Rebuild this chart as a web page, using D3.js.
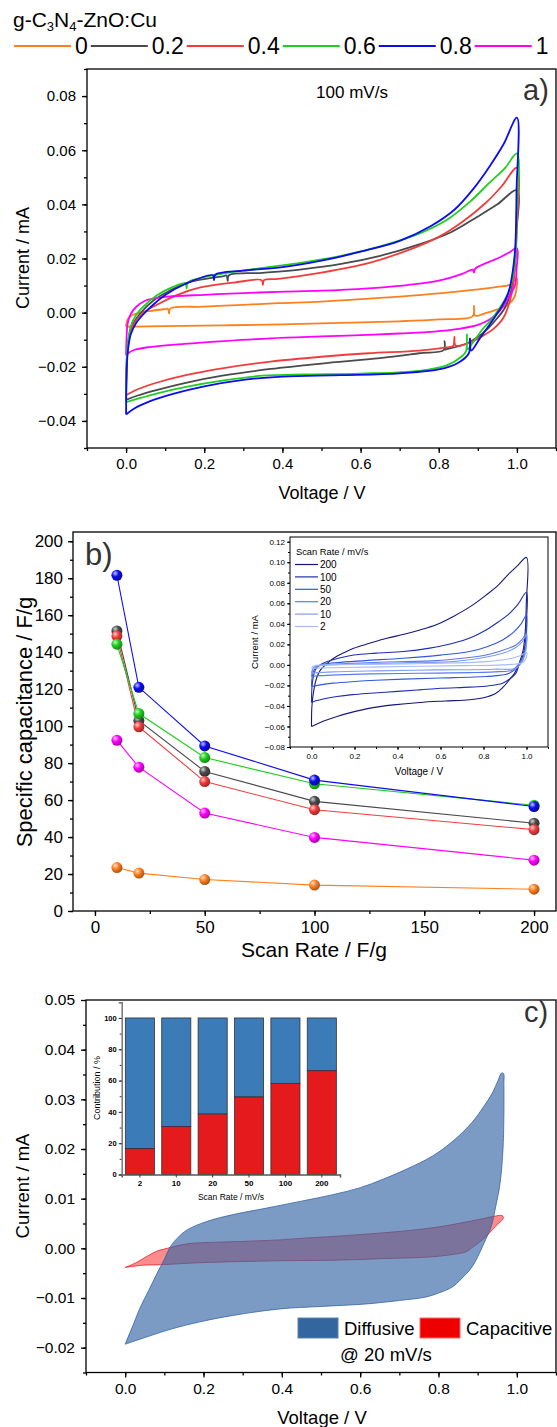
<!DOCTYPE html>
<html><head><meta charset="utf-8">
<script src="https://cdn.jsdelivr.net/npm/d3@7"></script>
<style>
body{margin:0;background:#fff}
svg{display:block}
text{font-family:"Liberation Sans",Arial,Helvetica,sans-serif}
</style></head>
<body><svg id="chart" width="557" height="1427"></svg>
<script>
// ---------------- DATA ----------------
const seriesLabels = ["0", "0.2", "0.4", "0.6", "0.8", "1"];
const palette = ["#ff7f1e", "#4a4a4a", "#f23c3c", "#1fcf1f", "#0c0cf0", "#ff00ff"];

// Panel a: CV loops at 100 mV/s  [Voltage V, Current mA]
const cvA_0 = [[0,-0.0052],[0.001,-0.004],[0.004,-0.0025],[0.012,-0.0012],[0.03,-0.0002],[0.06,0.0006],[0.1,0.0013],[0.107,0.0014],[0.11,-0.0003],[0.113,0.0015],[0.2,0.0022],[0.3,0.0029],[0.39,0.0035],[0.5,0.0041],[0.62,0.0052],[0.75,0.0065],[0.876,0.0082],[0.95,0.0095],[0.985,0.0105],[1.0,0.0127],[0.999,0.009],[0.993,0.0055],[0.975,0.0028],[0.95,0.0012],[0.92,-0.0002],[0.893,-0.0011],[0.89,0.0025],[0.887,-0.0013],[0.8,-0.0025],[0.7,-0.0032],[0.55,-0.0038],[0.4,-0.0043],[0.25,-0.0047],[0.1,-0.005],[0.02,-0.0052],[0,-0.0052]];
const cvA_02 = [[0,-0.0322],[0.001,-0.02],[0.005,-0.011],[0.015,-0.005],[0.035,-0.0005],[0.07,0.0045],[0.11,0.008],[0.16,0.0112],[0.25,0.0135],[0.257,0.0137],[0.26,0.0117],[0.263,0.0138],[0.35,0.0147],[0.45,0.016],[0.55,0.018],[0.65,0.021],[0.75,0.0252],[0.83,0.0296],[0.9,0.0355],[0.95,0.04],[1.0,0.0452],[0.999,0.03],[0.995,0.018],[0.985,0.008],[0.97,0.002],[0.95,-0.002],[0.925,-0.006],[0.9,-0.009],[0.87,-0.0115],[0.82,-0.0135],[0.817,-0.0136],[0.815,-0.0105],[0.813,-0.0138],[0.75,-0.015],[0.65,-0.0168],[0.5,-0.0188],[0.37,-0.0208],[0.25,-0.0232],[0.15,-0.026],[0.08,-0.0285],[0.03,-0.0306],[0,-0.0322]];
const cvA_04 = [[0,-0.0305],[0.002,-0.018],[0.008,-0.009],[0.02,-0.004],[0.045,0],[0.08,0.003],[0.13,0.0065],[0.19,0.0093],[0.28,0.0112],[0.347,0.012],[0.35,0.0103],[0.353,0.012],[0.39,0.0125],[0.5,0.0148],[0.62,0.0183],[0.72,0.023],[0.8,0.028],[0.86,0.0335],[0.92,0.0405],[0.96,0.0465],[1.0,0.0535],[0.999,0.03],[0.995,0.016],[0.985,0.006],[0.965,-0.002],[0.94,-0.006],[0.91,-0.0088],[0.876,-0.0113],[0.843,-0.0121],[0.84,-0.009],[0.837,-0.0123],[0.82,-0.0128],[0.75,-0.014],[0.62,-0.015],[0.5,-0.0163],[0.37,-0.0181],[0.25,-0.0205],[0.15,-0.0232],[0.08,-0.0258],[0.03,-0.0283],[0,-0.0305]];
const cvA_06 = [[0,-0.0331],[0.001,-0.022],[0.004,-0.012],[0.012,-0.005],[0.025,-0.001],[0.046,0.0025],[0.08,0.0065],[0.12,0.0095],[0.152,0.0108],[0.155,0.009],[0.158,0.0111],[0.25,0.0145],[0.35,0.0165],[0.45,0.0185],[0.55,0.021],[0.65,0.0245],[0.75,0.0292],[0.82,0.0342],[0.88,0.041],[0.93,0.048],[0.97,0.0535],[1.0,0.0588],[0.999,0.035],[0.996,0.02],[0.988,0.012],[0.975,0.0065],[0.955,0.0015],[0.935,-0.0025],[0.91,-0.0065],[0.885,-0.0115],[0.874,-0.0135],[0.872,-0.008],[0.87,-0.0142],[0.86,-0.016],[0.82,-0.0195],[0.75,-0.0215],[0.6,-0.0225],[0.45,-0.0228],[0.35,-0.0233],[0.25,-0.025],[0.15,-0.0275],[0.08,-0.0298],[0.03,-0.0318],[0,-0.0331]];
const cvA_08 = [[0,-0.0376],[0.001,-0.025],[0.004,-0.015],[0.012,-0.008],[0.025,-0.004],[0.045,-0.0005],[0.07,0.003],[0.1,0.0065],[0.15,0.0105],[0.222,0.0138],[0.225,0.012],[0.228,0.014],[0.3,0.0155],[0.4,0.0168],[0.5,0.0192],[0.6,0.0225],[0.7,0.0265],[0.78,0.032],[0.84,0.038],[0.89,0.046],[0.93,0.054],[0.965,0.062],[1.0,0.072],[0.999,0.045],[0.996,0.025],[0.99,0.016],[0.978,0.0072],[0.962,0.0025],[0.944,-0.0015],[0.925,-0.0055],[0.905,-0.0095],[0.883,-0.014],[0.88,-0.0095],[0.877,-0.015],[0.85,-0.0185],[0.8,-0.021],[0.7,-0.0224],[0.55,-0.0231],[0.4,-0.0236],[0.3,-0.0248],[0.2,-0.0272],[0.12,-0.03],[0.06,-0.0328],[0.02,-0.0355],[0,-0.0376]];
const cvA_1 = [[0,-0.0157],[0.001,-0.01],[0.004,-0.004],[0.012,-0.0005],[0.025,0.002],[0.05,0.0045],[0.1,0.0058],[0.2,0.0066],[0.3,0.0072],[0.39,0.0077],[0.5,0.0081],[0.62,0.009],[0.72,0.0102],[0.8,0.0118],[0.86,0.0143],[0.887,0.0159],[0.89,0.0148],[0.893,0.0162],[0.95,0.02],[0.98,0.0222],[1.0,0.0238],[0.999,0.016],[0.995,0.01],[0.978,0.0055],[0.955,0.0005],[0.93,-0.0025],[0.9,-0.0045],[0.85,-0.006],[0.79,-0.007],[0.7,-0.0077],[0.6,-0.0083],[0.5,-0.0088],[0.37,-0.0095],[0.25,-0.0105],[0.15,-0.0115],[0.06,-0.0127],[0.02,-0.0138],[0.005,-0.015],[0,-0.0157]];

// Panel b: specific capacitance (F/g) vs scan rate
const scanRates = [10, 20, 50, 100, 200];
const capB_0  = [23.5, 20.5, 17, 14, 11.8];
const capB_02 = [151.5, 103, 75.5, 59.3, 47.5];
const capB_04 = [148.7, 99.6, 70, 54.8, 44];
const capB_06 = [144.3, 106.8, 83, 68.8, 57.2];
const capB_08 = [181.6, 121, 89.3, 70.8, 56.5];
const capB_1  = [92.3, 77.8, 53, 39.8, 27.5];

// Inset b: CV of 0.8 sample at several scan rates
const insetRates = ["200", "100", "50", "20", "10", "2"];
const insetPalette = ["#16167a", "#1d2db0", "#3058e0", "#5a7bec", "#809cf1", "#a8bbf6"];
const cvI_200 = [[0,-0.06],[0.002,-0.04],[0.011,-0.0243],[0.025,-0.012],[0.042,-0.0049],[0.07,0.001],[0.103,0.0065],[0.15,0.0118],[0.196,0.0162],[0.27,0.021],[0.35,0.0259],[0.43,0.0298],[0.504,0.034],[0.58,0.039],[0.658,0.047],[0.74,0.057],[0.812,0.068],[0.87,0.078],[0.92,0.0891],[0.96,0.097],[1.0,0.1047],[0.999,0.06],[0.995,0.035],[0.985,0.015],[0.966,0.0016],[0.945,-0.008],[0.92,-0.0146],[0.89,-0.022],[0.858,-0.0276],[0.8,-0.032],[0.735,-0.034],[0.62,-0.0352],[0.504,-0.0366],[0.38,-0.039],[0.273,-0.0421],[0.19,-0.046],[0.119,-0.0502],[0.06,-0.0545],[0.02,-0.058],[0,-0.06]];
const cvI_100 = [[0,-0.0366],[0.002,-0.022],[0.008,-0.012],[0.018,-0.0049],[0.04,0],[0.072,0.0032],[0.13,0.0068],[0.196,0.0097],[0.3,0.0115],[0.427,0.013],[0.55,0.0163],[0.658,0.021],[0.74,0.0265],[0.812,0.034],[0.87,0.042],[0.92,0.05],[0.96,0.059],[1.0,0.0707],[0.999,0.04],[0.995,0.022],[0.982,0.0081],[0.965,0],[0.951,-0.0081],[0.92,-0.014],[0.889,-0.0178],[0.82,-0.0205],[0.735,-0.0217],[0.6,-0.0228],[0.504,-0.0243],[0.4,-0.0258],[0.273,-0.0276],[0.19,-0.029],[0.119,-0.0308],[0.06,-0.033],[0.02,-0.035],[0,-0.0366]];
const cvI_50 = [[0,-0.0211],[0.003,-0.012],[0.012,-0.005],[0.026,-0.0016],[0.06,0.0008],[0.119,0.0023],[0.25,0.0042],[0.427,0.0065],[0.6,0.0095],[0.735,0.013],[0.82,0.018],[0.889,0.0243],[0.94,0.032],[0.975,0.04],[1.0,0.0486],[0.999,0.028],[0.993,0.015],[0.982,0.0049],[0.96,-0.002],[0.92,-0.0081],[0.86,-0.0105],[0.812,-0.0113],[0.6,-0.0128],[0.427,-0.0139],[0.3,-0.015],[0.2,-0.0162],[0.1,-0.0178],[0.04,-0.0195],[0,-0.0211]];
const cvI_20 = [[0,-0.0113],[0.004,-0.006],[0.012,-0.0025],[0.026,-0.001],[0.1,0.0008],[0.196,0.0016],[0.35,0.0028],[0.58,0.0042],[0.7,0.0065],[0.812,0.0097],[0.88,0.0135],[0.951,0.0194],[0.98,0.025],[1.0,0.0308],[0.998,0.018],[0.99,0.009],[0.97,0.0025],[0.935,-0.0049],[0.85,-0.0068],[0.735,-0.0075],[0.5,-0.0082],[0.273,-0.0088],[0.12,-0.0097],[0.04,-0.0105],[0,-0.0113]];
const cvI_10 = [[0,-0.008],[0.005,-0.004],[0.015,-0.0015],[0.026,-0.001],[0.1,0.0002],[0.273,0.001],[0.45,0.0022],[0.658,0.0032],[0.78,0.0065],[0.889,0.0113],[0.95,0.017],[0.98,0.0225],[1.0,0.0292],[0.998,0.016],[0.99,0.008],[0.98,0.0032],[0.951,-0.0032],[0.85,-0.0042],[0.58,-0.0049],[0.3,-0.0058],[0.1,-0.0068],[0,-0.008]];
const cvI_2 = [[0,-0.0032],[0.008,-0.0012],[0.026,-0.0003],[0.2,0.0004],[0.427,0.001],[0.65,0.0018],[0.812,0.0032],[0.92,0.006],[0.97,0.009],[1.0,0.012],[0.998,0.007],[0.982,0.0023],[0.889,0],[0.7,-0.0007],[0.427,-0.0016],[0.15,-0.0025],[0,-0.0032]];

// Panel c: separated contributions at 20 mV/s
const cvC_diffusive = [[0,-0.0193],[0.02,-0.0155],[0.039,-0.0118],[0.06,-0.0085],[0.081,-0.0051],[0.1,-0.0022],[0.115,0.0003],[0.135,0.0022],[0.158,0.0037],[0.208,0.0054],[0.276,0.0068],[0.361,0.0081],[0.45,0.0095],[0.53,0.0108],[0.6,0.0122],[0.658,0.0139],[0.72,0.016],[0.785,0.0186],[0.84,0.0218],[0.886,0.0254],[0.915,0.0285],[0.937,0.0312],[0.952,0.0338],[0.961,0.0353],[0.966,0.0352],[0.967,0.033],[0.965,0.0206],[0.957,0.013],[0.946,0.0084],[0.935,0.0045],[0.92,0.0017],[0.886,-0.0037],[0.86,-0.006],[0.835,-0.0078],[0.8,-0.009],[0.768,-0.0098],[0.7,-0.0105],[0.615,-0.0112],[0.5,-0.0117],[0.395,-0.0122],[0.276,-0.0135],[0.191,-0.0148],[0.12,-0.0162],[0.064,-0.0176],[0.03,-0.0185],[0,-0.0193]];
const cvC_capacitive = [[0,-0.00385],[0.03,-0.0028],[0.056,-0.0016],[0.08,-0.0006],[0.107,0],[0.158,0.0009],[0.19,0.0011],[0.3,0.0014],[0.395,0.0017],[0.446,0.002],[0.55,0.0025],[0.7,0.0034],[0.8,0.0043],[0.87,0.0053],[0.915,0.006],[0.945,0.0065],[0.962,0.0066],[0.966,0.0062],[0.96,0.0055],[0.954,0.0051],[0.935,0.0035],[0.912,0.0017],[0.89,0.0004],[0.87,-0.0007],[0.83,-0.0013],[0.785,-0.0017],[0.65,-0.0021],[0.53,-0.0024],[0.395,-0.0025],[0.19,-0.0029],[0.09,-0.0033],[0.045,-0.0034],[0,-0.00385]];

// Inset c: contribution (%) per scan rate
const contribRates = ["2", "10", "20", "50", "100", "200"];
const capacitivePct = [16.5, 30.6, 38.6, 49.5, 58.2, 66.3];
const diffusivePct = [83.5, 69.4, 61.4, 50.5, 41.8, 33.7];

// ---------------- DRAWING ----------------
const svg = d3.select("#chart");
const FONT = '"Liberation Sans", Arial, Helvetica, sans-serif';
const LABEL_FONT = '"Open Sans", "DejaVu Sans", sans-serif';

function styleAx(sel, fs, sw) {
  sel.select(".domain").remove();
  sel.selectAll("line").attr("stroke", "#000").attr("stroke-width", sw || 1.3);
  sel.selectAll("text").attr("font-size", fs).attr("fill", "#000").attr("font-family", FONT);
}
function axes(g, x, y, o) {
  const [xl, xr] = x.range(), [yb, yt] = y.range();
  const sw = o.sw || 1.3;
  if (o.xMinor) styleAx(g.append("g").attr("transform", `translate(0,${yb})`)
      .call(d3.axisBottom(x).tickValues(o.xMinor).tickSize(o.minor).tickFormat("")), o.fs, sw);
  styleAx(g.append("g").attr("transform", `translate(0,${yb})`)
      .call(d3.axisBottom(x).tickValues(o.xMajor).tickSize(o.major).tickPadding(o.xPad).tickFormat(o.xFmt)), o.fs, sw);
  if (o.yMinor) styleAx(g.append("g").attr("transform", `translate(${xl},0)`)
      .call(d3.axisLeft(y).tickValues(o.yMinor).tickSize(o.minor).tickFormat("")), o.fs, sw);
  styleAx(g.append("g").attr("transform", `translate(${xl},0)`)
      .call(d3.axisLeft(y).tickValues(o.yMajor).tickSize(o.major).tickPadding(o.yPad).tickFormat(o.yFmt)), o.fs, sw);
  g.append("rect").attr("x", xl).attr("y", yt).attr("width", xr - xl).attr("height", yb - yt)
    .attr("fill", "none").attr("stroke", "#000").attr("stroke-width", sw);
}
const rng = (a, b, s) => d3.range(Math.round((b - a) / s) + 1).map(i => +(a + i * s).toFixed(4));

// ---- Top legend ----
const leg = svg.append("g");
const ttl = leg.append("text").attr("x", 13).attr("y", 27).attr("font-size", 21).attr("fill", "#000");
ttl.append("tspan").text("g-C");
ttl.append("tspan").text("3").attr("font-size", 13).attr("dy", 4);
ttl.append("tspan").text("N").attr("dy", -4);
ttl.append("tspan").text("4").attr("font-size", 13).attr("dy", 4);
ttl.append("tspan").text("-ZnO:Cu").attr("dy", -4);
let lx = 14;
seriesLabels.forEach((s, i) => {
  leg.append("line").attr("x1", lx).attr("x2", lx + 57).attr("y1", 46).attr("y2", 46)
    .attr("stroke", palette[i]).attr("stroke-width", 2);
  const t = leg.append("text").attr("x", lx + 61).attr("y", 54).attr("font-size", 23).text(s);
  lx = lx + 61 + t.node().getComputedTextLength() + 3;
});

// ---- Panel a ----
const gA = svg.append("g");
const xA = d3.scaleLinear().domain([-0.1, 1.1]).range([87, 556]);
const yA = d3.scaleLinear().domain([-0.05, 0.09]).range([448, 69]);
const lineA = d3.line().x(d => xA(d[0])).y(d => yA(d[1])).curve(d3.curveCatmullRom.alpha(0.5));
const cvA = [cvA_0, cvA_02, cvA_04, cvA_06, cvA_08, cvA_1];
[0, 1, 2, 5, 3, 4].forEach(i => {
  gA.append("path").attr("d", lineA(cvA[i])).attr("fill", "none")
    .attr("stroke", palette[i]).attr("stroke-width", 1.8).attr("stroke-linejoin", "round");
});
axes(gA, xA, yA, {
  xMajor: rng(0, 1, 0.2), xMinor: rng(-0.1, 1.1, 0.1), yMajor: rng(-0.04, 0.08, 0.02), yMinor: rng(-0.05, 0.09, 0.01),
  major: 5, minor: 3, xPad: 5, yPad: 6, fs: 15, xFmt: d3.format(".1f"), yFmt: d3.format(".2f")
});
gA.append("text").attr("transform", "translate(29,258) rotate(-90)").attr("text-anchor", "middle")
  .attr("font-size", 18).text("Current / mA");
gA.append("text").attr("x", 322).attr("y", 499).attr("text-anchor", "middle").attr("font-size", 18).text("Voltage / V");
gA.append("text").attr("x", 352).attr("y", 98).attr("text-anchor", "middle").attr("font-size", 17).text("100 mV/s");
gA.append("text").attr("x", 523).attr("y", 100).attr("font-size", 29).attr("fill", "#333")
  .attr("font-family", LABEL_FONT).text("a)");

// ---- Panel b ----
const gB = svg.append("g");
const xB = d3.scaleLinear().domain([-10, 210]).range([73, 556]);
const yB = d3.scaleLinear().domain([0, 205]).range([911, 532]);
const defs = svg.append("defs");
palette.forEach((c, i) => {
  const gr = defs.append("radialGradient").attr("id", "sph" + i).attr("cx", "35%").attr("cy", "32%").attr("r", "70%");
  gr.append("stop").attr("offset", "0%").attr("stop-color", d3.interpolateRgb(c, "#fff")(0.75));
  gr.append("stop").attr("offset", "45%").attr("stop-color", c);
  gr.append("stop").attr("offset", "100%").attr("stop-color", d3.interpolateRgb(c, "#000")(0.35));
});
const capB = [capB_0, capB_02, capB_04, capB_06, capB_08, capB_1];
const lineB = d3.line().x((d, j) => xB(scanRates[j])).y(d => yB(d));
[0, 5, 1, 2, 3, 4].forEach(i => {
  gB.append("path").attr("d", lineB(capB[i])).attr("fill", "none").attr("stroke", palette[i]).attr("stroke-width", 1.1);
});
[0, 5, 1, 2, 3, 4].forEach(i => {
  gB.selectAll(null).data(capB[i]).enter().append("circle")
    .attr("cx", (d, j) => xB(scanRates[j])).attr("cy", d => yB(d)).attr("r", 5.5)
    .attr("fill", `url(#sph${i})`);
});
axes(gB, xB, yB, {
  xMajor: rng(0, 200, 50), xMinor: rng(0, 200, 25), yMajor: rng(0, 200, 20), yMinor: rng(0, 200, 10),
  major: 5, minor: 3, xPad: 5, yPad: 5, fs: 17, xFmt: d3.format("d"), yFmt: d3.format("d")
});
gB.append("text").attr("transform", "translate(32,722) rotate(-90)").attr("text-anchor", "middle")
  .attr("font-size", 22).text("Specific capacitance / F/g");
gB.append("text").attr("x", 314).attr("y", 957).attr("text-anchor", "middle").attr("font-size", 21).text("Scan Rate / F/g");
gB.append("text").attr("x", 85).attr("y", 565).attr("font-size", 31).attr("fill", "#333")
  .attr("font-family", LABEL_FONT).text("b)");

// ---- Inset b ----
const gI = svg.append("g");
const xI = d3.scaleLinear().domain([-0.1, 1.1]).range([290, 548]);
const yI = d3.scaleLinear().domain([-0.08, 0.1246]).range([747, 537]);
gI.append("rect").attr("x", 290).attr("y", 537).attr("width", 258).attr("height", 210).attr("fill", "#fff");
const lineI = d3.line().x(d => xI(d[0])).y(d => yI(d[1])).curve(d3.curveCatmullRom.alpha(0.5));
const cvI = [cvI_200, cvI_100, cvI_50, cvI_20, cvI_10, cvI_2];
cvI.forEach((c, i) => {
  gI.append("path").attr("d", lineI(c)).attr("fill", "none").attr("stroke", insetPalette[i]).attr("stroke-width", 1.1);
});
axes(gI, xI, yI, {
  xMajor: rng(0, 1, 0.2), xMinor: rng(-0.1, 1.1, 0.1), yMajor: rng(-0.08, 0.12, 0.02), yMinor: rng(-0.08, 0.12, 0.01),
  major: 3, minor: 2, xPad: 3, yPad: 2, fs: 8, sw: 1, xFmt: d3.format(".1f"), yFmt: d3.format(".2f")
});
gI.append("text").attr("transform", "translate(258,642) rotate(-90)").attr("text-anchor", "middle")
  .attr("font-size", 9.5).text("Current / mA");
gI.append("text").attr("x", 419).attr("y", 775).attr("text-anchor", "middle").attr("font-size", 10).text("Voltage / V");
gI.append("text").attr("x", 296).attr("y", 555).attr("font-size", 9.3).text("Scan Rate /  mV/s");
insetRates.forEach((r, i) => {
  const yy = 564.5 + i * 12.4;
  gI.append("line").attr("x1", 295).attr("x2", 318).attr("y1", yy).attr("y2", yy).attr("stroke", insetPalette[i]).attr("stroke-width", 1.2);
  gI.append("text").attr("x", 320).attr("y", yy + 3.6).attr("font-size", 10).text(r);
});

// ---- Panel c ----
const gC = svg.append("g");
const xC = d3.scaleLinear().domain([-0.1, 1.1]).range([86, 556]);
const yC = d3.scaleLinear().domain([-0.025, 0.05]).range([1372.5, 1000]);
const lineC = d3.line().x(d => xC(d[0])).y(d => yC(d[1])).curve(d3.curveCatmullRom.alpha(0.5));
gC.append("path").attr("d", lineC(cvC_capacitive) + "Z").attr("fill", "rgba(255,0,0,0.45)")
  .attr("stroke", "#e3242b").attr("stroke-width", 0.8);
gC.append("path").attr("d", lineC(cvC_diffusive) + "Z").attr("fill", "rgba(52,101,164,0.65)")
  .attr("stroke", "#3465a4").attr("stroke-width", 0.8);
axes(gC, xC, yC, {
  xMajor: rng(0, 1, 0.2), xMinor: rng(-0.1, 1.1, 0.1), yMajor: rng(-0.02, 0.05, 0.01), yMinor: rng(-0.025, 0.045, 0.005),
  major: 5, minor: 3, xPad: 5, yPad: 6, fs: 15.5, xFmt: d3.format(".1f"), yFmt: d3.format(".2f")
});
gC.append("text").attr("transform", "translate(29,1186) rotate(-90)").attr("text-anchor", "middle")
  .attr("font-size", 18.5).text("Current / mA");
gC.append("text").attr("x", 322).attr("y", 1424).attr("text-anchor", "middle").attr("font-size", 18.5).text("Voltage / V");
gC.append("text").attr("x", 524).attr("y", 1022).attr("font-size", 29).attr("fill", "#333")
  .attr("font-family", LABEL_FONT).text("c)");
// legend c
gC.append("rect").attr("x", 298).attr("y", 1318).attr("width", 40).attr("height", 20).attr("fill", "#33659f").attr("stroke", "#5b82b8");
gC.append("text").attr("x", 344).attr("y", 1335).attr("font-size", 18.5).text("Diffusive");
gC.append("rect").attr("x", 420).attr("y", 1318).attr("width", 40).attr("height", 20).attr("fill", "#ee0000").attr("stroke", "#f46a6a");
gC.append("text").attr("x", 466).attr("y", 1335).attr("font-size", 18.5).text("Capacitive");
gC.append("text").attr("x", 340).attr("y", 1361).attr("font-size", 18.5).text("@ 20 mV/s");

// ---- Inset c (stacked bars) ----
const gK = svg.append("g");
const xK = d3.scaleBand().domain(contribRates).range([121.7, 340]).paddingInner(0.2).paddingOuter(0.1);
const yK = d3.scaleLinear().domain([0, 110]).range([1174.5, 1002.3]);
gK.selectAll(null).data(contribRates).enter().append("rect")
  .attr("x", d => xK(d)).attr("width", xK.bandwidth())
  .attr("y", (d, i) => yK(capacitivePct[i] + diffusivePct[i])).attr("height", (d, i) => yK(0) - yK(diffusivePct[i]))
  .attr("fill", "#3a7bb8").attr("stroke", "#333").attr("stroke-width", 0.8);
gK.selectAll(null).data(contribRates).enter().append("rect")
  .attr("x", d => xK(d)).attr("width", xK.bandwidth())
  .attr("y", (d, i) => yK(capacitivePct[i])).attr("height", (d, i) => yK(0) - yK(capacitivePct[i]))
  .attr("fill", "#e41a1c").attr("stroke", "#333").attr("stroke-width", 0.8);
const kx = gK.append("g").attr("transform", "translate(0,1174.5)").call(d3.axisBottom(xK).tickSize(3).tickPadding(3));
kx.select(".domain").attr("stroke", "#555").attr("stroke-width", 1.5);
kx.selectAll("line").attr("stroke", "#333");
kx.selectAll("text").attr("font-size", 8).attr("font-weight", "bold").attr("font-family", FONT);
const kyMin = gK.append("g").attr("transform", "translate(121.7,0)").call(d3.axisLeft(yK).tickValues(rng(0, 110, 10)).tickSize(2).tickFormat(""));
kyMin.select(".domain").remove(); kyMin.selectAll("line").attr("stroke", "#333");
const ky = gK.append("g").attr("transform", "translate(121.7,0)").call(d3.axisLeft(yK).tickValues(rng(0, 100, 20)).tickSize(3).tickPadding(2));
ky.select(".domain").attr("stroke", "#777").attr("stroke-width", 1.5);
ky.selectAll("line").attr("stroke", "#333");
ky.selectAll("text").attr("font-size", 7.5).attr("font-weight", "bold").attr("font-family", FONT);
gK.append("text").attr("transform", "translate(100,1088) rotate(-90)").attr("text-anchor", "middle")
  .attr("font-size", 9).text("Contribution / %");
gK.append("text").attr("x", 231).attr("y", 1200).attr("text-anchor", "middle").attr("font-size", 8.5).text("Scan Rate / mV/s");
</script></body></html>
